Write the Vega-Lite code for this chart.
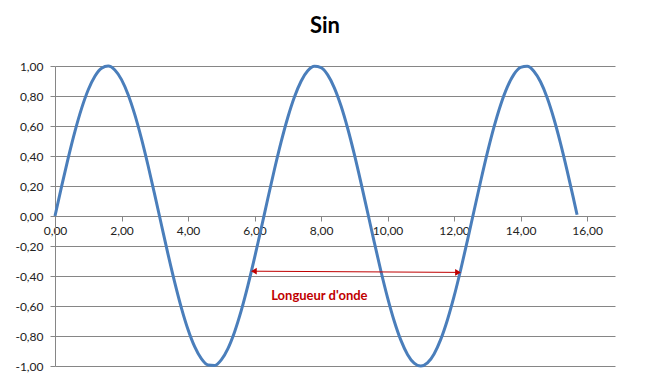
{
  "$schema": "https://vega.github.io/schema/vega-lite/v6.json",
  "width": 560,
  "height": 300,
  "autosize": {"type": "none"},
  "padding": {"left": 55, "top": 66, "right": 37, "bottom": 23},
  "background": "white",
  "title": {"text": "Sin", "font": "Lato", "fontSize": 22, "fontWeight": "bold", "color": "#000000", "anchor": "middle", "dx": -10, "offset": 22},
  "config": {
    "locale": {"number": {"decimal": ",", "thousands": " ", "grouping": [3], "currency": ["", " €"], "minus": "-"}},
    "view": {"stroke": null},
    "axis": {"labelFont": "Lato", "labelFontSize": 12, "labelColor": "#222222", "domainColor": "#868686", "tickColor": "#868686", "gridColor": "#868686", "title": null, "labelOverlap": false, "labelBound": false, "labelFlush": false}
  },
  "datasets": {
    "sin": [
      {"x": 0, "y": 0}, {"x": 0.2, "y": 0.1987}, {"x": 0.4, "y": 0.3894}, {"x": 0.6, "y": 0.5646}, {"x": 0.8, "y": 0.7174},
      {"x": 1.0, "y": 0.8415}, {"x": 1.2, "y": 0.932}, {"x": 1.4, "y": 0.9854}, {"x": 1.6, "y": 0.9996}, {"x": 1.8, "y": 0.9738},
      {"x": 2.0, "y": 0.9093}, {"x": 2.2, "y": 0.8085}, {"x": 2.4, "y": 0.6755}, {"x": 2.6, "y": 0.5155}, {"x": 2.8, "y": 0.335},
      {"x": 3.0, "y": 0.1411}, {"x": 3.2, "y": -0.0584}, {"x": 3.4, "y": -0.2555}, {"x": 3.6, "y": -0.4425}, {"x": 3.8, "y": -0.6119},
      {"x": 4.0, "y": -0.7568}, {"x": 4.2, "y": -0.8716}, {"x": 4.4, "y": -0.9516}, {"x": 4.6, "y": -0.9937}, {"x": 4.8, "y": -0.9962},
      {"x": 5.0, "y": -0.9589}, {"x": 5.2, "y": -0.8835}, {"x": 5.4, "y": -0.7728}, {"x": 5.6, "y": -0.6313}, {"x": 5.8, "y": -0.4646},
      {"x": 6.0, "y": -0.2794}, {"x": 6.2, "y": -0.0831}, {"x": 6.4, "y": 0.1165}, {"x": 6.6, "y": 0.3115}, {"x": 6.8, "y": 0.4941},
      {"x": 7.0, "y": 0.657}, {"x": 7.2, "y": 0.7937}, {"x": 7.4, "y": 0.8987}, {"x": 7.6, "y": 0.9679}, {"x": 7.8, "y": 0.9985},
      {"x": 8.0, "y": 0.9894}, {"x": 8.2, "y": 0.9407}, {"x": 8.4, "y": 0.8546}, {"x": 8.6, "y": 0.7344}, {"x": 8.8, "y": 0.5849},
      {"x": 9.0, "y": 0.4121}, {"x": 9.2, "y": 0.2229}, {"x": 9.4, "y": 0.0248}, {"x": 9.6, "y": -0.1743}, {"x": 9.8, "y": -0.3665},
      {"x": 10.0, "y": -0.544}, {"x": 10.2, "y": -0.6999}, {"x": 10.4, "y": -0.8278}, {"x": 10.6, "y": -0.9228}, {"x": 10.8, "y": -0.9809},
      {"x": 11.0, "y": -1.0}, {"x": 11.2, "y": -0.9792}, {"x": 11.4, "y": -0.9193}, {"x": 11.6, "y": -0.8228}, {"x": 11.8, "y": -0.6935},
      {"x": 12.0, "y": -0.5366}, {"x": 12.2, "y": -0.3582}, {"x": 12.4, "y": -0.1655}, {"x": 12.6, "y": 0.0336}, {"x": 12.8, "y": 0.2315},
      {"x": 13.0, "y": 0.4202}, {"x": 13.2, "y": 0.5921}, {"x": 13.4, "y": 0.7403}, {"x": 13.6, "y": 0.8592}, {"x": 13.8, "y": 0.9437},
      {"x": 14.0, "y": 0.9906}, {"x": 14.2, "y": 0.998}, {"x": 14.4, "y": 0.9656}, {"x": 14.6, "y": 0.8947}, {"x": 14.8, "y": 0.7885},
      {"x": 15.0, "y": 0.6503}, {"x": 15.2, "y": 0.4864}, {"x": 15.4, "y": 0.3031}, {"x": 15.6, "y": 0.1078}, {"x": 15.7, "y": 0.008}
    ],
    "arrow": [{"x": 5.95, "y": -0.368, "x2": 12.15, "y2": -0.376}],
    "heads": [{"x": 5.98, "y": -0.368, "shape": "triangle-left"}, {"x": 12.12, "y": -0.376, "shape": "triangle-right"}],
    "label": [{"x": 7.95, "y": -0.535, "text": "Longueur d'onde"}]
  },
  "layer": [
    {
      "data": {"name": "sin"},
      "mark": {"type": "line", "color": "#4a7ebb", "strokeWidth": 3, "interpolate": "monotone"},
      "encoding": {
        "x": {"field": "x", "type": "quantitative", "scale": {"domain": [0, 16.84], "nice": false, "zero": false},
          "axis": {"orient": "bottom", "offset": -150, "values": [0, 2, 4, 6, 8, 10, 12, 14, 16], "tickCount": 20, "format": ".2f", "tickSize": 5, "labelPadding": 4, "grid": false, "labelOverlap": false}},
        "y": {"field": "y", "type": "quantitative", "scale": {"domain": [-1, 1], "nice": false},
          "axis": {"values": [-1, -0.8, -0.6, -0.4, -0.2, 0, 0.2, 0.4, 0.6, 0.8, 1], "tickCount": 20, "format": ".2f", "tickSize": 5, "labelPadding": 7, "grid": true, "labelOverlap": false}}
      }
    },
    {
      "data": {"name": "arrow"},
      "mark": {"type": "rule", "color": "#c00000", "strokeWidth": 1},
      "encoding": {
        "x": {"field": "x", "type": "quantitative"},
        "y": {"field": "y", "type": "quantitative"},
        "x2": {"field": "x2"},
        "y2": {"field": "y2"}
      }
    },
    {
      "data": {"name": "heads"},
      "mark": {"type": "point", "filled": true, "color": "#c00000", "size": 45, "opacity": 1},
      "encoding": {
        "x": {"field": "x", "type": "quantitative"},
        "y": {"field": "y", "type": "quantitative"},
        "shape": {"field": "shape", "type": "nominal", "scale": null}
      }
    },
    {
      "data": {"name": "label"},
      "mark": {"type": "text", "font": "Lato", "fontSize": 13, "fontWeight": "bold", "color": "#c00000", "align": "center", "baseline": "middle"},
      "encoding": {
        "x": {"field": "x", "type": "quantitative"},
        "y": {"field": "y", "type": "quantitative"},
        "text": {"field": "text"}
      }
    }
  ]
}
